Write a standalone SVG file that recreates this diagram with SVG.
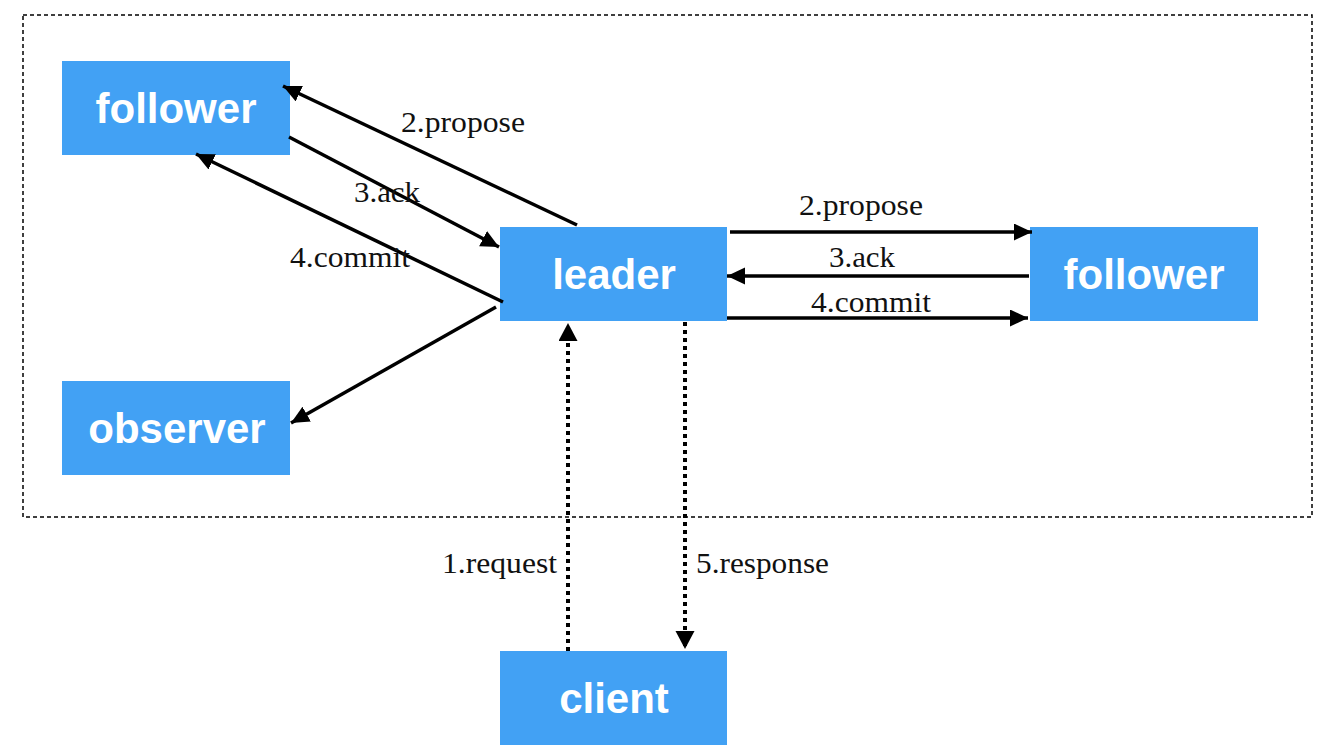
<svg xmlns="http://www.w3.org/2000/svg" width="1342" height="754" viewBox="0 0 1342 754">
<style>
.node{fill:#42A1F4}
.nt{font-family:"Liberation Sans",Arial,sans-serif;font-weight:bold;font-size:42px;fill:#fff;text-anchor:middle}
.lbl{font-family:"Liberation Serif","Times New Roman",serif;font-size:30px;fill:#111}
.c{stroke:#000;stroke-width:3.5;fill:none;marker-end:url(#ah)}
.d{stroke:#000;stroke-width:4;stroke-dasharray:4 4;fill:none;marker-end:url(#ahd)}
</style>
<defs>
<marker id="ah" markerUnits="userSpaceOnUse" markerWidth="20" markerHeight="18" refX="18" refY="8.5" orient="auto" viewBox="0 0 20 18">
<path d="M0,0 L18,8.5 L0,17 Z" fill="#000"/>
</marker>
<marker id="ahd" markerUnits="userSpaceOnUse" markerWidth="20" markerHeight="20" refX="18" refY="9.5" orient="auto" viewBox="0 0 20 20">
<path d="M0,0 L18,9.5 L0,19 Z" fill="#000"/>
</marker>
</defs>
<rect x="0" y="0" width="1342" height="754" fill="#fff"/>
<rect id="cluster" x="23" y="15" width="1289" height="502" fill="none" stroke="#000" stroke-width="1.5" stroke-dasharray="4 3"/>
<g id="follower1"><rect class="node" x="62" y="61" width="228" height="94"/><text class="nt" x="176" y="123">follower</text></g>
<g id="observer"><rect class="node" x="62" y="381" width="228" height="94"/><text class="nt" x="177" y="443">observer</text></g>
<g id="leader"><rect class="node" x="500" y="227" width="227" height="94"/><text class="nt" x="614" y="289">leader</text></g>
<g id="follower2"><rect class="node" x="1030" y="227" width="228" height="94"/><text class="nt" x="1144" y="289">follower</text></g>
<g id="client"><rect class="node" x="500" y="651" width="227" height="94"/><text class="nt" x="614" y="713">client</text></g>
<g id="connectors">
<line class="c" x1="577" y1="225" x2="283" y2="86"/>
<line class="c" x1="289" y1="137" x2="499" y2="247"/>
<line class="c" x1="503" y1="302" x2="196" y2="154"/>
<line class="c" x1="496" y1="307" x2="291" y2="423"/>
<line class="c" x1="730" y1="232" x2="1032" y2="232"/>
<line class="c" x1="1029" y1="276" x2="727" y2="276"/>
<line class="c" x1="727" y1="318" x2="1028" y2="318"/>
<line class="d" x1="568" y1="651" x2="568" y2="323"/>
<line class="d" x1="685" y1="322" x2="685" y2="649"/>
</g>
<g id="labels">
<text class="lbl" x="401" y="132" textLength="124" lengthAdjust="spacingAndGlyphs">2.propose</text>
<text class="lbl" x="354" y="202" textLength="66" lengthAdjust="spacingAndGlyphs">3.ack</text>
<text class="lbl" x="290" y="267" textLength="120" lengthAdjust="spacingAndGlyphs">4.commit</text>
<text class="lbl" x="799" y="215" textLength="124" lengthAdjust="spacingAndGlyphs">2.propose</text>
<text class="lbl" x="829" y="267" textLength="66" lengthAdjust="spacingAndGlyphs">3.ack</text>
<text class="lbl" x="811" y="312" textLength="120" lengthAdjust="spacingAndGlyphs">4.commit</text>
<text class="lbl" x="442" y="573" textLength="115" lengthAdjust="spacingAndGlyphs">1.request</text>
<text class="lbl" x="696" y="573" textLength="133" lengthAdjust="spacingAndGlyphs">5.response</text>
</g>
</svg>
